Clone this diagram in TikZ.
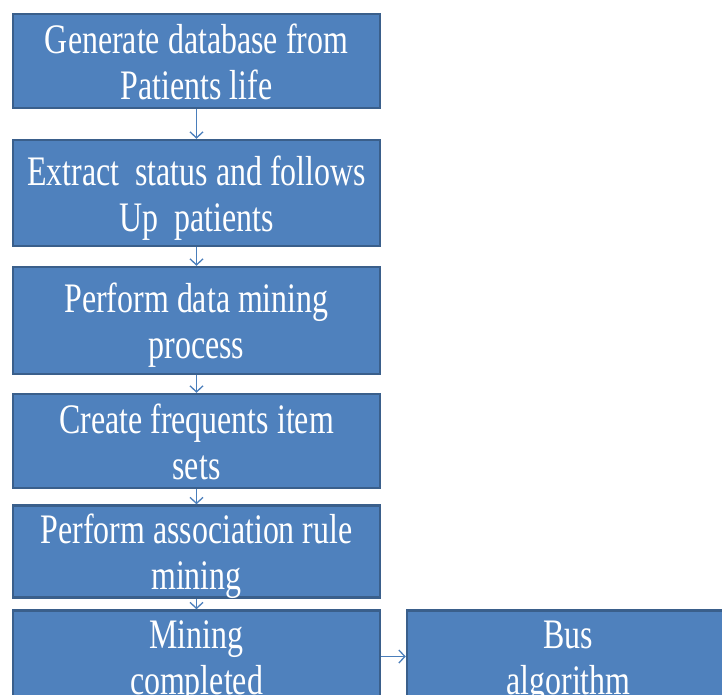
\documentclass[tikz,border=0pt]{standalone}
\usepackage{fontspec}
\setmainfont{Liberation Serif}
\usetikzlibrary{arrows.meta}
\definecolor{boxfill}{HTML}{4F81BD}
\definecolor{boxedge}{HTML}{3A5F8B}
\definecolor{flow}{HTML}{4A7EBB}
% narrow two-line label, as in the flow chart's condensed lettering,
% set a little below the box's middle
\newcommand\boxlabel[1]{\raisebox{-6pt}[\height][\depth]{%
  \scalebox{0.76}[1]{\begin{tabular}{@{}c@{}}#1\end{tabular}}}}
\tikzset{
  stepbox/.style={draw=boxedge, line width=2.5pt, fill=boxfill, text=white,
    inner sep=0pt, minimum width=367pt,
    font={\fontsize{42}{46}\selectfont}},
  flowarrow/.style={draw=flow, line width=1.3pt,
    -{Straight Barb[length=6pt,width=13pt,line width=1.3pt]}}
}
\begin{document}
\begin{tikzpicture}[x=1pt,y=-1pt]
  \useasboundingbox (0,0) rectangle (722,694);
  \clip (0,0) rectangle (722,694);
  \fill[white] (0,0) rectangle (722,694);

  \node[stepbox, minimum height=94pt]  (gen)  at (196.5,61)
    {\boxlabel{Generate database from\\Patients life}};
  \node[stepbox, minimum height=106pt] (ext)  at (196.5,193)
    {\boxlabel{Extract~ status and follows\\Up~ patients}};
  \node[stepbox, minimum height=107pt] (dm)   at (196.5,320.5)
    {\boxlabel{Perform data mining\\process}};
  \node[stepbox, minimum height=94pt]  (freq) at (196.5,441)
    {\boxlabel{Create frequents item\\sets}};
  \node[stepbox, minimum height=83pt]  (arm)  at (196.5,551.5)
    {\boxlabel{Perform association rule\\mining}};
  \node[stepbox, minimum height=87pt]  (done) at (196.5,656.5)
    {\boxlabel{Mining\\completed}};
  \node[stepbox, minimum height=87pt, minimum width=323pt] (bus) at (568.5,656.5)
    {\boxlabel{Bus\\algorithm}};

  \draw[flowarrow] (gen.south)  -- (ext.north);
  \draw[flowarrow] (ext.south)  -- (dm.north);
  \draw[flowarrow] (dm.south)   -- (freq.north);
  \draw[flowarrow] (freq.south) -- (arm.north);
  \draw[flowarrow] (arm.south)  -- (done.north);
  \draw[flowarrow] (done.east)  -- (bus.west);
\end{tikzpicture}
\end{document}
